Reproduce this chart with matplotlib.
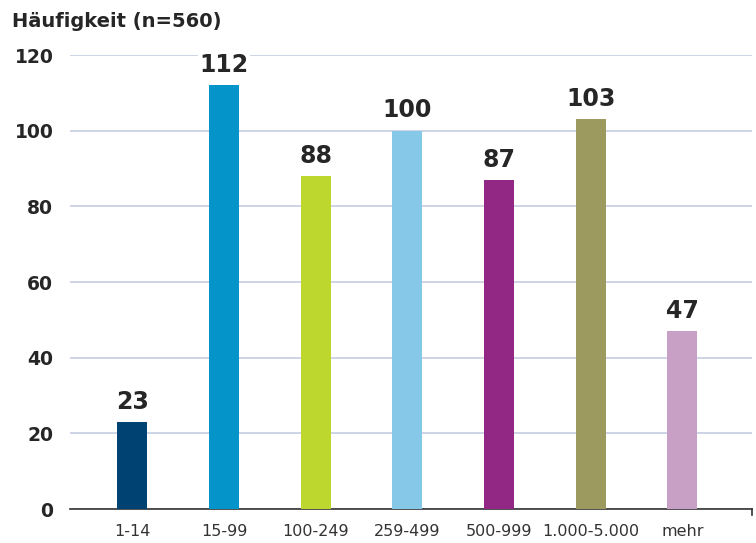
import matplotlib
matplotlib.use('Agg')
import matplotlib.pyplot as plt

# Daten
categories = ['1-14', '15-99', '100-249', '259-499', '500-999', '1.000-5.000', 'mehr']
values = [23, 112, 88, 100, 87, 103, 47]
bar_colors = ['#004373', '#0494CA', '#BED72F', '#85C8E8', '#922883', '#9C9A5F', '#C8A0C5']
yticks = [0, 20, 40, 60, 80, 100, 120]

fig = plt.figure(figsize=(7.56, 5.43), dpi=100)
ax = fig.add_axes([0.0926, 0.0626, 0.9021, 0.8361])

x = range(len(categories))
ax.bar(x, values, width=0.33, color=bar_colors, zorder=3)

ax.set_xlim(-0.68, 6.76)
ax.set_ylim(0, 120)
ax.set_yticks(yticks)
ax.yaxis.grid(True, color='#C5CDE2', linewidth=1.2, zorder=0)
ax.set_axisbelow(True)

for s in ['top', 'left', 'right']:
    ax.spines[s].set_visible(False)
ax.spines['bottom'].set_color('#333333')
ax.spines['bottom'].set_linewidth(1.2)
# kleiner Strich am rechten Ende
ax.plot([6.76, 6.76], [0, -1.5], color='#333333', lw=1.2, clip_on=False)

ax.tick_params(axis='y', length=0, pad=12, labelsize=13.5)
ax.tick_params(axis='x', length=0, pad=11, labelsize=11.5)
ax.set_xticks(list(x))
ax.set_xticklabels(categories, color='#333333', family='DejaVu Sans')
for lbl in ax.get_yticklabels():
    lbl.set_fontfamily('DejaVu Sans')
    lbl.set_fontweight('bold')
    lbl.set_color('#262626')

for i, v in enumerate(values):
    ax.text(i, v + 2.2, str(v), ha='center', va='bottom', fontsize=17,
            fontfamily='DejaVu Sans', fontweight='bold', color='#262626',
            bbox=dict(facecolor='white', edgecolor='none', pad=1), zorder=4)

fig.text(0.016, 0.961, 'Häufigkeit (n=560)', ha='left', va='center', fontsize=14,
         fontfamily='DejaVu Sans', fontweight='bold', color='#262626')

fig.savefig('out.png', dpi=100)
